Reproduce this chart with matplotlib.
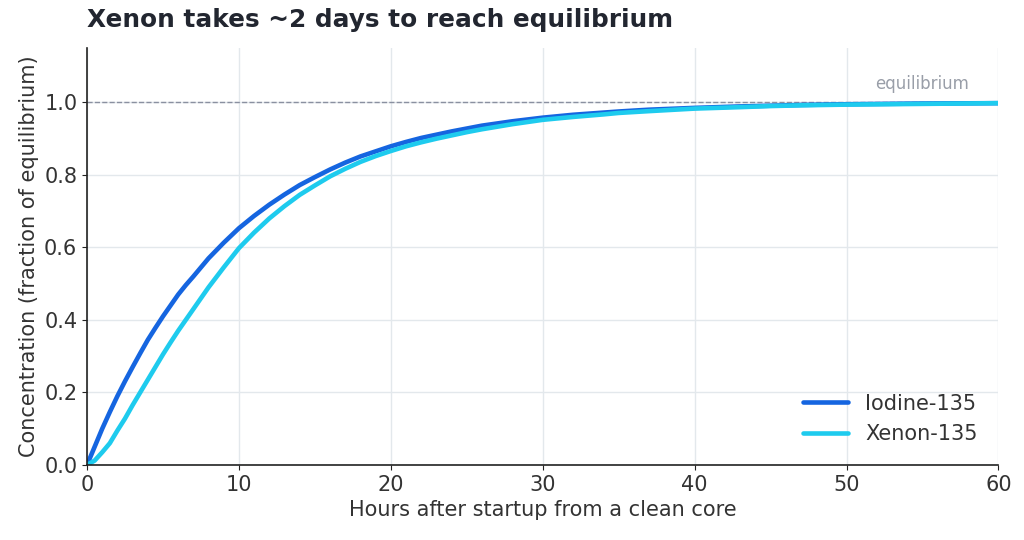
import numpy as np
import matplotlib.pyplot as plt

plt.rcParams["figure.facecolor"] = "white"
plt.rc("font", size=15)

# values (fraction of equilibrium)
hours = [0, 0.5, 1, 1.5, 2, 2.5, 3, 3.5, 4, 4.5, 5, 5.5, 6, 6.5, 7, 8, 9, 10,
         11, 12, 13, 14, 15, 16, 17, 18, 19, 20, 21, 22, 23, 24, 25, 26, 27,
         28, 29, 30, 32, 34, 35, 37, 40, 43, 45, 47, 50, 55, 60]
iodine = [0.0, 0.05, 0.10, 0.146, 0.19, 0.231, 0.27, 0.308, 0.345, 0.378, 0.41,
          0.44, 0.47, 0.496, 0.52, 0.57, 0.613, 0.653,
          0.687, 0.718, 0.746, 0.772, 0.794, 0.815, 0.834, 0.851, 0.865, 0.879,
          0.891, 0.902, 0.911, 0.92, 0.928, 0.936, 0.942,
          0.948, 0.953, 0.958, 0.966, 0.972, 0.975, 0.98, 0.985, 0.989, 0.991,
          0.993, 0.995, 0.997, 0.998]
xenon = [0.0, 0.012, 0.035, 0.06, 0.095, 0.128, 0.165, 0.2, 0.235, 0.27, 0.305,
         0.338, 0.37, 0.4, 0.43, 0.49, 0.545, 0.598,
         0.641, 0.68, 0.714, 0.745, 0.771, 0.796, 0.817, 0.836, 0.852, 0.866,
         0.879, 0.89, 0.9, 0.909, 0.918, 0.926, 0.933,
         0.94, 0.946, 0.952, 0.96, 0.967, 0.971, 0.976, 0.983, 0.987, 0.99,
         0.992, 0.994, 0.996, 0.998]

fig = plt.figure(figsize=(10.24, 5.4), dpi=100)
ax = fig.add_axes([0.085, 0.139, 0.89, 0.772])

ax.plot(hours, iodine, color="#1565e0", lw=3.3, label="Iodine-135",
        solid_capstyle="round", solid_joinstyle="round")
ax.plot(hours, xenon, color="#1ecbee", lw=3.3, label="Xenon-135",
        solid_capstyle="round", solid_joinstyle="round")

ax.axhline(1.0, color="#8a90a0", lw=1, ls="--", zorder=1)
ax.text(55, 1.025, "equilibrium", color="#999ea8", fontsize=12,
        ha="center", va="bottom")

ax.set_xlim(0, 60)
ax.set_ylim(0, 1.15)
ax.set_xticks(range(0, 61, 10))
ax.set_yticks(np.arange(0, 1.01, 0.2))
ax.yaxis.set_major_formatter(plt.FormatStrFormatter("%.1f"))

ax.grid(color="#e3e8ec", lw=1)
ax.set_axisbelow(True)
for side in ("top", "right"):
    ax.spines[side].set_visible(False)
for side in ("left", "bottom"):
    ax.spines[side].set_color("#222222")
    ax.spines[side].set_linewidth(1.2)
ax.tick_params(colors="#222222", labelcolor="#333333", labelsize=15)

ax.set_xlabel("Hours after startup from a clean core", color="#333333",
              fontsize=15)
ax.set_ylabel("Concentration (fraction of equilibrium)", color="#333333",
              fontsize=15)
ax.set_title("Xenon takes ~2 days to reach equilibrium", loc="left",
             fontweight="bold", fontsize=17.8, color="#222630", pad=15)

ax.legend(loc="lower right", frameon=False, fontsize=15, handlelength=2.2,
          borderaxespad=0.6, labelcolor="#333333")

fig.savefig("out.png", dpi=100)
